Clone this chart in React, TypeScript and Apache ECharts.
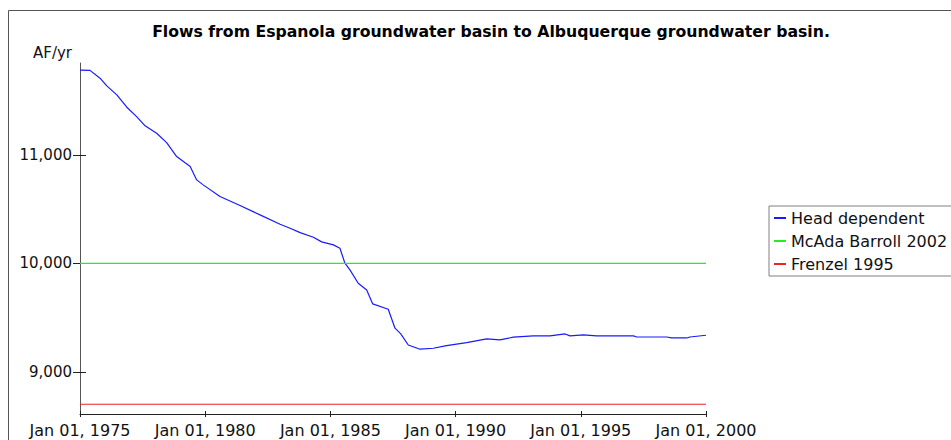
import React, { useEffect, useRef } from "react";
import * as echarts from "echarts";

const titleText = "Flows from Espanola groundwater basin to Albuquerque groundwater basin.";
const yAxisName = "AF/yr";
const xTickYears = [1975, 1980, 1985, 1990, 1995, 2000];
const yTickValues = [9000, 10000, 11000];
const seriesNames = ["Head dependent", "McAda Barroll 2002", "Frenzel 1995"];
const seriesColors = ["#1a1aff", "#22ee22", "#ee2222"];

const headYears = [
  1975.0, 1975.4, 1975.8, 1976.07, 1976.47, 1976.87, 1977.26, 1977.6, 1978.06, 1978.46,
  1978.86, 1979.4, 1979.66, 1979.92, 1980.59, 1981.39, 1982.19, 1982.99, 1983.39, 1983.79,
  1984.32, 1984.65, 1985.12, 1985.38, 1985.58, 1985.78, 1986.11, 1986.45, 1986.69, 1987.31,
  1987.58, 1987.81, 1988.11, 1988.58, 1989.11, 1989.64, 1990.44, 1991.24, 1991.77, 1992.3,
  1993.1, 1993.77, 1994.37, 1994.57, 1995.1, 1995.63, 1997.1, 1997.23, 1998.43, 1998.63,
  1999.23, 1999.36, 2000.0,
];
const headValues = [
  11784, 11782, 11710, 11639, 11556, 11442, 11355, 11270, 11202, 11115,
  10986, 10894, 10771, 10725, 10617, 10535, 10448, 10362, 10325, 10284,
  10242, 10199, 10171, 10140, 10002, 9940, 9817, 9755, 9626, 9577,
  9402, 9349, 9247, 9208, 9217, 9241, 9269, 9303, 9294, 9319,
  9331, 9331, 9349, 9331, 9340, 9331, 9331, 9321, 9321, 9312,
  9312, 9321, 9337,
];
const constYears = [1975, 2000];
const mcadaValues = [10000, 10000];
const frenzelValues = [8700, 8700];

const FONT = "DejaVu Sans";

export default function App() {
  const ref = useRef<HTMLDivElement>(null);
  useEffect(() => {
    if (!ref.current) return;
    const chart = echarts.init(ref.current, null, { renderer: "svg" });
    const zip = (xs: number[], ys: number[]) => xs.map((x, i) => [x, ys[i]]);
    const yMin = 8610;
    const yMax = 11850;
    const seriesData = [
      zip(headYears, headValues),
      zip(constYears, mcadaValues),
      zip(constYears, frenzelValues),
    ];
    chart.setOption({
      animation: false,
      backgroundColor: "#ffffff",
      title: {
        text: titleText,
        left: 486,
        top: 18,
        textAlign: "center",
        textStyle: { fontFamily: FONT, fontSize: 15.7, fontWeight: "bold", color: "#000" },
      },
      legend: {
        orient: "vertical",
        left: 769,
        top: 206,
        padding: [4, 6, 4, 5],
        itemGap: 7,
        itemWidth: 12,
        itemHeight: 2,
        borderColor: "#808080",
        borderWidth: 1,
        backgroundColor: "#fff",
        textStyle: { fontFamily: FONT, fontSize: 16, color: "#111" },
        data: seriesNames.map((n, i) => ({
          name: n,
          icon: "rect",
          itemStyle: { color: seriesColors[i], borderWidth: 0 },
        })),
      },
      grid: { left: 80, right: 245, top: 63, bottom: 26, containLabel: false },
      xAxis: [
        {
          type: "value",
          min: 1975,
          max: 2000,
          interval: 5,
          axisLine: { show: true, lineStyle: { color: "#222", width: 1 } },
          axisTick: { show: true, length: 3, lineStyle: { color: "#222" } },
          axisLabel: {
            margin: 8,
            fontFamily: FONT,
            fontSize: 16,
            color: "#111",
            formatter: (v: number) => (xTickYears.includes(v) ? `Jan 01, ${v}` : ""),
          },
          splitLine: { show: false },
        },
        {
          type: "value",
          position: "bottom",
          min: 1975,
          max: 2000,
          interval: 5,
          axisLine: { show: false },
          axisTick: { show: true, inside: true, length: 3, lineStyle: { color: "#222" } },
          axisLabel: { show: false },
          splitLine: { show: false },
        },
      ],
      yAxis: [
        {
          type: "value",
          min: yMin,
          max: yMax,
          name: yAxisName,
          nameLocation: "end",
          nameGap: 10,
          nameTextStyle: {
            fontFamily: FONT,
            fontSize: 15,
            color: "#111",
            align: "right",
            verticalAlign: "middle",
            padding: [0, 8, 0, 0],
          },
          axisLine: { show: true, lineStyle: { color: "#555", width: 1 } },
          axisTick: { show: true, length: 7, customValues: yTickValues, lineStyle: { color: "#222" } },
          axisLabel: {
            margin: 8,
            fontFamily: FONT,
            fontSize: 15,
            color: "#111",
            customValues: yTickValues,
            formatter: (v: number) => v.toLocaleString("en-US"),
          },
          splitLine: { show: false },
        },
        {
          type: "value",
          position: "left",
          min: yMin,
          max: yMax,
          axisLine: { show: false },
          axisTick: { show: true, inside: true, length: 6, customValues: yTickValues, lineStyle: { color: "#222" } },
          axisLabel: { show: false },
          splitLine: { show: false },
        },
      ],
      graphic: [
        { type: "line", shape: { x1: 8.5, y1: 10.5, x2: 951, y2: 10.5 }, style: { stroke: "#555", lineWidth: 1 } },
        { type: "line", shape: { x1: 8.5, y1: 10.5, x2: 8.5, y2: 440 }, style: { stroke: "#555", lineWidth: 1 } },
      ],
      series: seriesNames.map((n, i) => ({
        name: n,
        type: "line",
        data: seriesData[i],
        showSymbol: false,
        symbol: "none",
        lineStyle: { color: seriesColors[i], width: 1.2 },
        itemStyle: { color: seriesColors[i] },
      })),
    });
    return () => chart.dispose();
  }, []);
  return (
    <div
      ref={ref}
      style={{ position: "fixed", left: 0, top: 0, width: 951, height: 440 }}
    />
  );
}
